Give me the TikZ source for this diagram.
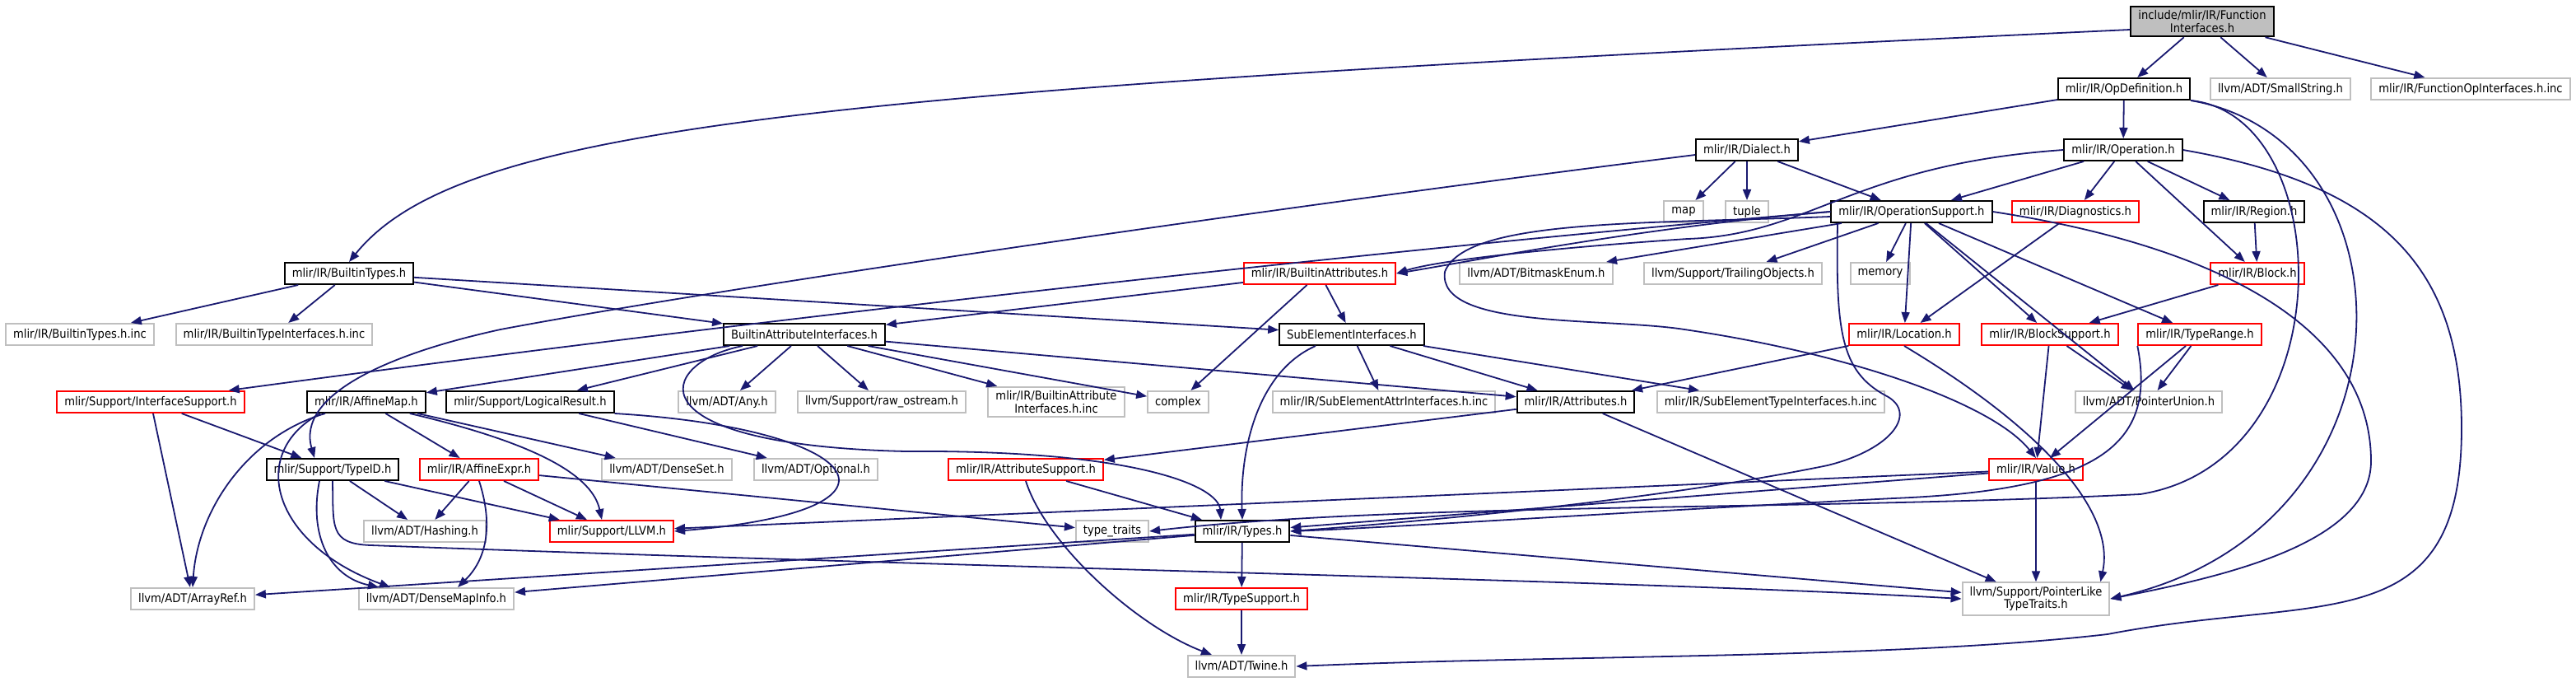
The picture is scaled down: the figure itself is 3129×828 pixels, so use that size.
\documentclass[tikz,border=0pt]{standalone}
\usepackage{fontspec}
\setmainfont{DejaVu Sans Condensed}
\usetikzlibrary{arrows.meta}
\definecolor{edgeblue}{HTML}{191970}
\definecolor{extgray}{HTML}{BFBFBF}
\begin{document}
\begin{tikzpicture}[x=0.5pt,y=-0.5pt,
	inc/.style={rectangle,draw=black,line width=1pt,minimum height=13pt,inner xsep=4.5pt,inner ysep=2.5pt,align=center,font=\fontsize{7.3}{7.6}\selectfont},
	ext/.style={inc,draw=extgray},
	trunc/.style={inc,draw=red},
	dep/.style={draw=edgeblue,line width=0.9pt,-{Triangle[length=6.5pt,width=5pt]}}]
	\fill[white] (0,0) rectangle (3129,828);
	\node[inc,fill=extgray] (root) at (2675,26) {include/mlir/IR/Function\\Interfaces.h};
	\node[inc] (opdef) at (2580,108) {mlir/IR/OpDefinition.h};
	\node[ext] (smallstr) at (2770,108) {llvm/ADT/SmallString.h};
	\node[ext] (funcinc) at (3001,108) {mlir/IR/FunctionOpInterfaces.h.inc};
	\node[inc] (dialect) at (2122,182) {mlir/IR/Dialect.h};
	\node[inc] (operation) at (2579,182) {mlir/IR/Operation.h};
	\node[ext] (map) at (2045,257) {map};
	\node[ext] (tuple) at (2122,257) {tuple};
	\node[inc] (opsupp) at (2322,257) {mlir/IR/OperationSupport.h};
	\node[trunc] (diag) at (2521,257) {mlir/IR/Diagnostics.h};
	\node[inc] (region) at (2738,257) {mlir/IR/Region.h};
	\node[inc] (btypes) at (424,332) {mlir/IR/BuiltinTypes.h};
	\node[trunc] (battrs) at (1603,332) {mlir/IR/BuiltinAttributes.h};
	\node[ext] (bitmask) at (1866,332) {llvm/ADT/BitmaskEnum.h};
	\node[ext] (trailing) at (2105,332) {llvm/Support/TrailingObjects.h};
	\node[ext] (memory) at (2284,332) {memory};
	\node[trunc] (block) at (2742,332) {mlir/IR/Block.h};
	\node[ext] (btinc) at (97,406) {mlir/IR/BuiltinTypes.h.inc};
	\node[ext] (btiinc) at (333,406) {mlir/IR/BuiltinTypeInterfaces.h.inc};
	\node[inc] (bai) at (977,406) {BuiltinAttributeInterfaces.h};
	\node[inc] (subel) at (1642,406) {SubElementInterfaces.h};
	\node[trunc] (location) at (2313,406) {mlir/IR/Location.h};
	\node[trunc] (blocksupp) at (2490,406) {mlir/IR/BlockSupport.h};
	\node[trunc] (typerange) at (2672,406) {mlir/IR/TypeRange.h};
	\node[trunc] (ifsupp) at (183,488) {mlir/Support/InterfaceSupport.h};
	\node[inc] (affmap) at (445,488) {mlir/IR/AffineMap.h};
	\node[inc] (logres) at (644,488) {mlir/Support/LogicalResult.h};
	\node[ext] (any) at (883,488) {llvm/ADT/Any.h};
	\node[ext] (rawos) at (1071,488) {llvm/Support/raw\_ostream.h};
	\node[ext] (baiinc) at (1283,488) {mlir/IR/BuiltinAttribute\\Interfaces.h.inc};
	\node[ext] (complex) at (1431,488) {complex};
	\node[ext] (seainc) at (1681,488) {mlir/IR/SubElementAttrInterfaces.h.inc};
	\node[inc] (attrs) at (1914,488) {mlir/IR/Attributes.h};
	\node[ext] (setinc) at (2151,488) {mlir/IR/SubElementTypeInterfaces.h.inc};
	\node[ext] (ptrunion) at (2610,488) {llvm/ADT/PointerUnion.h};
	\node[inc] (typeid) at (404,570) {mlir/Support/TypeID.h};
	\node[trunc] (affexpr) at (582,570) {mlir/IR/AffineExpr.h};
	\node[ext] (denseset) at (810,570) {llvm/ADT/DenseSet.h};
	\node[ext] (optional) at (991,570) {llvm/ADT/Optional.h};
	\node[trunc] (attrsupp) at (1246,570) {mlir/IR/AttributeSupport.h};
	\node[trunc] (value) at (2473,570) {mlir/IR/Value.h};
	\node[ext] (hashing) at (516,645) {llvm/ADT/Hashing.h};
	\node[trunc] (llvm) at (743,645) {mlir/Support/LLVM.h};
	\node[ext] (typetraits) at (1351,645) {type\_traits};
	\node[inc] (types) at (1509,645) {mlir/IR/Types.h};
	\node[ext] (arrayref) at (234,727) {llvm/ADT/ArrayRef.h};
	\node[ext] (densemap) at (530,727) {llvm/ADT/DenseMapInfo.h};
	\node[trunc] (typesupp) at (1508,727) {mlir/IR/TypeSupport.h};
	\node[ext] (ptrlike) at (2473,727) {llvm/Support/PointerLike\\TypeTraits.h};
	\node[ext] (twine) at (1508,809) {llvm/ADT/Twine.h};
	\draw[dep] ([yshift=-5pt]root.west) .. controls (1000,110) and (560,150) .. (btypes.north);
	\draw[dep] (root) -- (opdef);
	\draw[dep] (root) -- (smallstr);
	\draw[dep] (root) -- (funcinc);
	\draw[dep] (opdef) -- (dialect);
	\draw[dep] (opdef) -- (operation);
	\draw[dep] (opdef.south east) .. controls (2940,170) and (2945,640) .. (ptrlike.east);
	\draw[dep] (opdef.south east) .. controls (2840,140) and (2850,560) .. (2600,600) .. controls (2200,620) and (1700,610) .. (typetraits.east);
	\draw[dep] (dialect) -- (map);
	\draw[dep] (dialect) -- (tuple);
	\draw[dep] (dialect) -- (opsupp);
	\draw[dep] ([yshift=-3pt]dialect.west) .. controls (1600,245) and (900,345) .. (608,400) .. controls (470,430) and (360,480) .. ([xshift=-11pt]typeid.north);
	\draw[dep] (operation.west) .. controls (2250,200) and (2200,285) .. (2050,290) .. controls (1900,300) and (1750,315) .. (battrs.east);
	\draw[dep] (operation) -- (opsupp);
	\draw[dep] (operation) -- (diag);
	\draw[dep] (operation) -- (region);
	\draw[dep] (operation) -- (block);
	\draw[dep] (operation.east) .. controls (2900,225) and (2990,330) .. (2990,520) .. controls (2990,780) and (2820,720) .. (2560,770) .. controls (2300,800) and (1900,795) .. (twine.east);
	\draw[dep] (opsupp.west) .. controls (2000,275) and (1800,315) .. (battrs.east);
	\draw[dep] (opsupp) -- (bitmask);
	\draw[dep] (opsupp) -- (trailing);
	\draw[dep] (opsupp) -- (memory);
	\draw[dep] (opsupp) -- (location);
	\draw[dep] (opsupp) -- (blocksupp);
	\draw[dep] (opsupp) -- (typerange);
	\draw[dep] (opsupp) -- (ptrunion);
	\draw[dep] (opsupp.west) .. controls (1700,300) and (900,390) .. ([xshift=-10pt]ifsupp.north east);
	\draw[dep] ([yshift=-3pt]opsupp.west) .. controls (2000,272) and (1780,265) .. (1755,330) .. controls (1745,400) and (1950,385) .. (2046,400) .. controls (2250,430) and (2420,490) .. (value.north);
	\draw[dep] ([xshift=-45pt]opsupp.south) .. controls (2230,400) and (2235,450) .. (2290,480) .. controls (2330,500) and (2300,545) .. (2220,565) .. controls (2000,610) and (1700,635) .. (types.east);
	\draw[dep] (opsupp.east) .. controls (2700,300) and (2880,400) .. (2880,560) .. controls (2880,660) and (2700,700) .. (ptrlike.east);
	\draw[dep] (diag) -- (location);
	\draw[dep] (region) -- (block);
	\draw[dep] (block) -- (blocksupp);
	\draw[dep] (btypes) -- (btinc);
	\draw[dep] (btypes) -- (btiinc);
	\draw[dep] (btypes) -- (bai);
	\draw[dep] (btypes) -- (subel);
	\draw[dep] (battrs) -- (bai);
	\draw[dep] (battrs) -- (subel);
	\draw[dep] (battrs) -- (complex);
	\draw[dep] (bai) -- (affmap);
	\draw[dep] (bai) -- (logres);
	\draw[dep] (bai) -- (any);
	\draw[dep] (bai) -- (rawos);
	\draw[dep] (bai) -- (baiinc);
	\draw[dep] (bai) -- (complex);
	\draw[dep] (bai) -- (attrs);
	\draw[dep] ([xshift=12pt]bai.south west) .. controls (800,440) and (760,540) .. (1100,548) .. controls (1380,546) and (1480,590) .. ([xshift=-13pt]types.north);
	\draw[dep] (subel) -- (seainc);
	\draw[dep] (subel) -- (setinc);
	\draw[dep] (subel) -- (attrs);
	\draw[dep] ([xshift=-22pt]subel.south) .. controls (1530,450) and (1506,540) .. (types.north);
	\draw[dep] (location) -- (attrs);
	\draw[dep] (location.south) .. controls (2480,520) and (2570,620) .. ([xshift=-6pt]ptrlike.north east);
	\draw[dep] (blocksupp) -- (value);
	\draw[dep] (blocksupp) -- (ptrunion);
	\draw[dep] (typerange) -- (value);
	\draw[dep] (typerange) -- (ptrunion);
	\draw[dep] (typerange.south west) .. controls (2620,540) and (2550,595) .. (2300,605) .. controls (2000,620) and (1700,640) .. (types.east);
	\draw[dep] (ifsupp) -- (typeid);
	\draw[dep] (ifsupp) -- (arrayref);
	\draw[dep] (affmap) -- (affexpr);
	\draw[dep] (affmap) -- (denseset);
	\draw[dep] ([xshift=-10pt]affmap.south east) .. controls (660,540) and (720,580) .. ([xshift=-6pt]llvm.north);
	\draw[dep] ([xshift=-25pt]affmap.south) .. controls (300,530) and (240,620) .. (arrayref.north);
	\draw[dep] ([xshift=-28pt]affmap.south) .. controls (300,550) and (330,660) .. ([xshift=-28pt]densemap.north);
	\draw[dep] (logres) -- (optional);
	\draw[dep] (logres.south east) .. controls (1050,520) and (1130,620) .. (llvm.east);
	\draw[dep] (attrs) -- (attrsupp);
	\draw[dep] (attrs) -- (ptrlike);
	\draw[dep] (typeid) -- (hashing);
	\draw[dep] (typeid) -- (llvm);
	\draw[dep] ([xshift=-8pt]typeid.south) .. controls (375,650) and (400,700) .. ([xshift=-35pt]densemap.north);
	\draw[dep] (typeid.south) .. controls (405,640) and (400,660) .. (450,662) .. controls (1200,690) and (2000,705) .. (ptrlike.west);
	\draw[dep] (affexpr) -- (hashing);
	\draw[dep] (affexpr) -- (llvm);
	\draw[dep] (affexpr.south) .. controls (600,640) and (590,680) .. ([xshift=13pt]densemap.north);
	\draw[dep] (affexpr) -- (typetraits);
	\draw[dep] (attrsupp) -- (types);
	\draw[dep] (attrsupp.south) .. controls (1270,660) and (1380,760) .. ([xshift=-18pt]twine.north);
	\draw[dep] (value) -- (types);
	\draw[dep] (value) -- (llvm);
	\draw[dep] (value) -- (ptrlike);
	\draw[dep] (types) -- (typesupp);
	\draw[dep] (types) -- (arrayref);
	\draw[dep] (types) -- (densemap);
	\draw[dep] (types) -- (ptrlike);
	\draw[dep] (typesupp) -- (twine);
\end{tikzpicture}
\end{document}
